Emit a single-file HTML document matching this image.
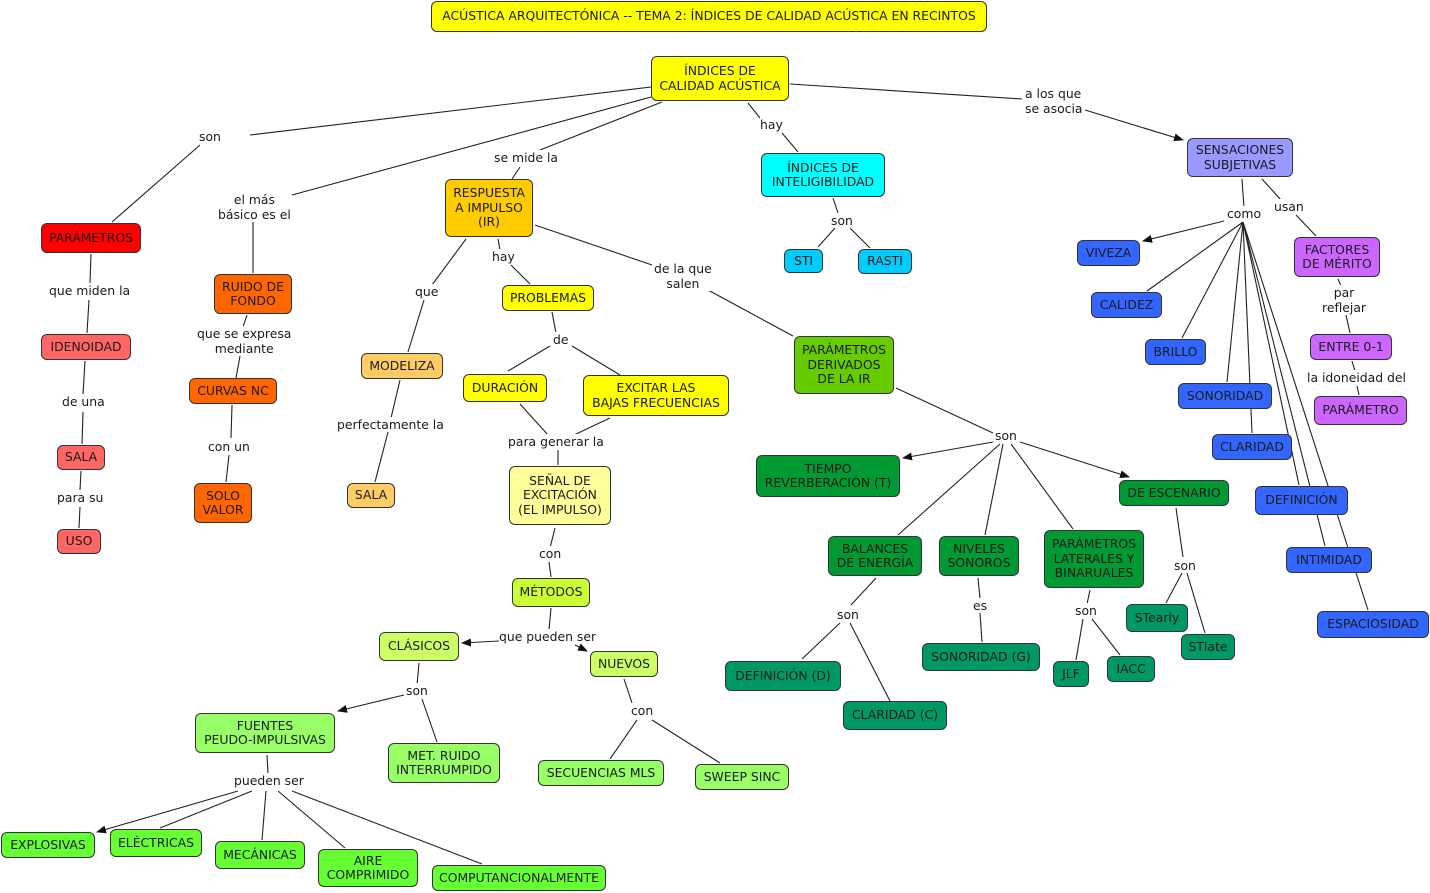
<!DOCTYPE html>
<html><head><meta charset="utf-8"><style>
body{margin:0;width:1430px;height:893px;background:#fff;position:relative;overflow:hidden;font-family:"DejaVu Sans","Liberation Sans",sans-serif;font-size:12.4px;color:#1a1a1a}
.n{position:absolute;box-sizing:border-box;border:1px solid #333;border-radius:6px;display:flex;align-items:center;justify-content:center;text-align:center;line-height:14.5px;white-space:nowrap}
.l{position:absolute;text-align:center;line-height:15px;white-space:nowrap;background:#fff}
svg{position:absolute;left:0;top:0}
</style></head><body>
<svg width="1430" height="893" stroke="#222" stroke-width="1.1" fill="none">
<defs><marker id="a" markerWidth="10" markerHeight="8" refX="9" refY="4" orient="auto" markerUnits="userSpaceOnUse"><path d="M0,0L10,4L0,8z" fill="#111" stroke="none"/></marker></defs>
<path d="M651,87L250,135M200,145L112,222M651,97L292,195M253,222L253,273M662,102L540,150M520,167L512,179M748,103L760,118M782,133L798,152M790,84L1022,99"/>
<path d="M1085,110L1183,140" marker-end="url(#a)"/>
<path d="M91,254L90,283M89,300L87,333M85,361L83,395M83,412L82,444M81,471L80,490M80,507L79,528M247,315L243,327M240,356L236,378M232,405L231,438M229,455L226,482M466,239L432,285M424,300L408,352M400,380L391,418M388,432L375,482M498,239L500,250M511,265L530,284M535,225L652,265M708,290L793,336M552,312L556,333M550,346L508,371M572,346L620,375M520,404L548,435M610,418L574,435M558,450L558,465M555,528L550,548M549,562L551,577M551,608L549,630"/>
<path d="M499,641L462,643" marker-end="url(#a)"/>
<path d="M575,645L587,651" marker-end="url(#a)"/>
<path d="M419,663L417,685"/>
<path d="M404,695L338,711" marker-end="url(#a)"/>
<path d="M422,699L437,742M267,755L268,773"/>
<path d="M238,791L97,832" marker-end="url(#a)"/>
<path d="M252,791L160,828M266,791L262,840M278,791L345,848M292,791L482,864M624,679L632,703M637,720L610,759M652,720L720,763M833,198L838,213M835,228L818,247M850,228L870,248M896,388L993,433"/>
<path d="M993,442L903,458" marker-end="url(#a)"/>
<path d="M1020,442L1129,477" marker-end="url(#a)"/>
<path d="M1000,444L898,535M1003,444L985,535M1011,444L1073,529M876,578L851,605M840,623L802,659M850,623L890,701M978,578L980,598M980,613L982,642M1090,590L1087,604M1083,619L1076,660M1092,619L1120,655M1176,508L1183,557M1182,573L1166,603M1187,573L1205,633M1242,179L1244,208M1262,179L1281,200M1296,215L1316,236"/>
<path d="M1224,221L1143,241" marker-end="url(#a)"/>
<path d="M1243,222L1147,291M1243,222L1182,338M1243,222L1227,382M1243,222L1252,433M1243,222L1299,485M1243,222L1325,546M1243,222L1368,610M1338,279L1341,286M1346,315L1350,333M1352,361L1355,371M1357,386L1359,395"/>
</svg>

<div class="n" style="left:431px;top:1px;width:556px;height:31px;background:#ffff00">ACÚSTICA ARQUITECTÓNICA -- TEMA 2: ÍNDICES DE CALIDAD ACÚSTICA EN RECINTOS</div>
<div class="n" style="left:651px;top:56px;width:138px;height:45px;background:#ffff00">ÍNDICES DE<br>CALIDAD ACÚSTICA</div>
<div class="n" style="left:1187px;top:138px;width:106px;height:39px;background:#9999ff">SENSACIONES<br>SUBJETIVAS</div>
<div class="n" style="left:761px;top:153px;width:124px;height:44px;background:#00ffff">ÍNDICES DE<br>INTELIGIBILIDAD</div>
<div class="n" style="left:784px;top:249px;width:39px;height:24px;background:#00ccff">STI</div>
<div class="n" style="left:858px;top:249px;width:54px;height:25px;background:#00ccff">RASTI</div>
<div class="n" style="left:445px;top:179px;width:88px;height:58px;background:#ffcc00">RESPUESTA<br>A IMPULSO<br>(IR)</div>
<div class="n" style="left:41px;top:223px;width:100px;height:30px;background:#ff0000">PARÁMETROS</div>
<div class="n" style="left:214px;top:274px;width:78px;height:40px;background:#ff6600">RUIDO DE<br>FONDO</div>
<div class="n" style="left:189px;top:378px;width:88px;height:26px;background:#ff6600">CURVAS NC</div>
<div class="n" style="left:194px;top:483px;width:58px;height:40px;background:#ff6600">SOLO<br>VALOR</div>
<div class="n" style="left:41px;top:334px;width:90px;height:26px;background:#ff6666">IDENOIDAD</div>
<div class="n" style="left:57px;top:445px;width:48px;height:25px;background:#ff6666">SALA</div>
<div class="n" style="left:57px;top:529px;width:44px;height:25px;background:#ff6666">USO</div>
<div class="n" style="left:361px;top:353px;width:82px;height:26px;background:#ffcc66">MODELIZA</div>
<div class="n" style="left:347px;top:483px;width:48px;height:25px;background:#ffcc66">SALA</div>
<div class="n" style="left:502px;top:285px;width:92px;height:26px;background:#ffff00">PROBLEMAS</div>
<div class="n" style="left:463px;top:374px;width:84px;height:28px;background:#ffff00">DURACIÓN</div>
<div class="n" style="left:583px;top:375px;width:146px;height:41px;background:#ffff00">EXCITAR LAS<br>BAJAS FRECUENCIAS</div>
<div class="n" style="left:509px;top:466px;width:102px;height:59px;background:#ffff99">SEÑAL DE<br>EXCITACIÓN<br>(EL IMPULSO)</div>
<div class="n" style="left:512px;top:578px;width:78px;height:29px;background:#ccff33">MÉTODOS</div>
<div class="n" style="left:379px;top:632px;width:80px;height:29px;background:#ccff66">CLÁSICOS</div>
<div class="n" style="left:590px;top:651px;width:68px;height:26px;background:#ccff66">NUEVOS</div>
<div class="n" style="left:195px;top:713px;width:140px;height:40px;background:#99ff66">FUENTES<br>PEUDO-IMPULSIVAS</div>
<div class="n" style="left:388px;top:743px;width:112px;height:40px;background:#99ff66">MET. RUIDO<br>INTERRUMPIDO</div>
<div class="n" style="left:538px;top:760px;width:126px;height:26px;background:#99ff66">SECUENCIAS MLS</div>
<div class="n" style="left:695px;top:764px;width:94px;height:26px;background:#99ff66">SWEEP SINC</div>
<div class="n" style="left:1px;top:832px;width:94px;height:26px;background:#66ff33">EXPLOSIVAS</div>
<div class="n" style="left:110px;top:829px;width:92px;height:28px;background:#66ff33">ELÉCTRICAS</div>
<div class="n" style="left:215px;top:841px;width:90px;height:28px;background:#66ff33">MECÁNICAS</div>
<div class="n" style="left:318px;top:849px;width:100px;height:38px;background:#66ff33">AIRE<br>COMPRIMIDO</div>
<div class="n" style="left:432px;top:865px;width:174px;height:26px;background:#66ff33">COMPUTANCIONALMENTE</div>
<div class="n" style="left:794px;top:336px;width:100px;height:58px;background:#66cc00">PARÁMETROS<br>DERIVADOS<br>DE LA IR</div>
<div class="n" style="left:756px;top:455px;width:144px;height:42px;background:#009933">TIEMPO<br>REVERBERACIÓN (T)</div>
<div class="n" style="left:1119px;top:480px;width:110px;height:26px;background:#009933">DE ESCENARIO</div>
<div class="n" style="left:828px;top:536px;width:94px;height:40px;background:#009933">BALANCES<br>DE ENERGÍA</div>
<div class="n" style="left:939px;top:536px;width:80px;height:40px;background:#009933">NIVELES<br>SONOROS</div>
<div class="n" style="left:1044px;top:530px;width:100px;height:58px;background:#009933">PARÁMETROS<br>LATERALES Y<br>BINARUALES</div>
<div class="n" style="left:725px;top:661px;width:116px;height:30px;background:#009966">DEFINICIÓN (D)</div>
<div class="n" style="left:843px;top:701px;width:104px;height:29px;background:#009966">CLARIDAD (C)</div>
<div class="n" style="left:922px;top:643px;width:118px;height:28px;background:#009966">SONORIDAD (G)</div>
<div class="n" style="left:1053px;top:661px;width:36px;height:26px;background:#009966">JLF</div>
<div class="n" style="left:1107px;top:656px;width:48px;height:26px;background:#009966">IACC</div>
<div class="n" style="left:1126px;top:604px;width:62px;height:28px;background:#009966">STearly</div>
<div class="n" style="left:1181px;top:634px;width:54px;height:26px;background:#009966">STlate</div>
<div class="n" style="left:1077px;top:240px;width:63px;height:26px;background:#3366ff">VIVEZA</div>
<div class="n" style="left:1091px;top:292px;width:71px;height:26px;background:#3366ff">CALIDEZ</div>
<div class="n" style="left:1145px;top:339px;width:61px;height:26px;background:#3366ff">BRILLO</div>
<div class="n" style="left:1178px;top:383px;width:94px;height:26px;background:#3366ff">SONORIDAD</div>
<div class="n" style="left:1212px;top:434px;width:80px;height:26px;background:#3366ff">CLARIDAD</div>
<div class="n" style="left:1255px;top:486px;width:93px;height:29px;background:#3366ff">DEFINICIÓN</div>
<div class="n" style="left:1286px;top:547px;width:86px;height:26px;background:#3366ff">INTIMIDAD</div>
<div class="n" style="left:1317px;top:611px;width:112px;height:27px;background:#3366ff">ESPACIOSIDAD</div>
<div class="n" style="left:1294px;top:237px;width:86px;height:40px;background:#cc66ff">FACTORES<br>DE MÉRITO</div>
<div class="n" style="left:1310px;top:334px;width:82px;height:26px;background:#cc66ff">ENTRE 0-1</div>
<div class="n" style="left:1314px;top:396px;width:93px;height:29px;background:#cc66ff">PARÁMETRO</div>

<div class="l" style="left:199px;top:129px">son</div>
<div class="l" style="left:218px;top:192px">el más<br>básico es el</div>
<div class="l" style="left:494px;top:150px">se mide la</div>
<div class="l" style="left:760px;top:117px">hay</div>
<div class="l" style="left:1025px;top:86px;text-align:left">a los que<br>se asocia</div>
<div class="l" style="left:49px;top:283px">que miden la</div>
<div class="l" style="left:62px;top:394px">de una</div>
<div class="l" style="left:57px;top:490px">para su</div>
<div class="l" style="left:197px;top:326px">que se expresa<br>mediante</div>
<div class="l" style="left:208px;top:439px">con un</div>
<div class="l" style="left:415px;top:284px">que</div>
<div class="l" style="left:337px;top:417px">perfectamente la</div>
<div class="l" style="left:492px;top:249px">hay</div>
<div class="l" style="left:553px;top:332px">de</div>
<div class="l" style="left:508px;top:434px">para generar la</div>
<div class="l" style="left:539px;top:546px">con</div>
<div class="l" style="left:499px;top:629px">que pueden ser</div>
<div class="l" style="left:406px;top:683px">son</div>
<div class="l" style="left:234px;top:773px">pueden ser</div>
<div class="l" style="left:631px;top:703px">con</div>
<div class="l" style="left:654px;top:261px">de la que<br>salen</div>
<div class="l" style="left:831px;top:213px">son</div>
<div class="l" style="left:995px;top:428px">son</div>
<div class="l" style="left:837px;top:607px">son</div>
<div class="l" style="left:973px;top:598px">es</div>
<div class="l" style="left:1075px;top:603px">son</div>
<div class="l" style="left:1174px;top:558px">son</div>
<div class="l" style="left:1227px;top:206px">como</div>
<div class="l" style="left:1274px;top:199px">usan</div>
<div class="l" style="left:1322px;top:285px">par<br>reflejar</div>
<div class="l" style="left:1307px;top:370px">la idoneidad del</div>
</body></html>
